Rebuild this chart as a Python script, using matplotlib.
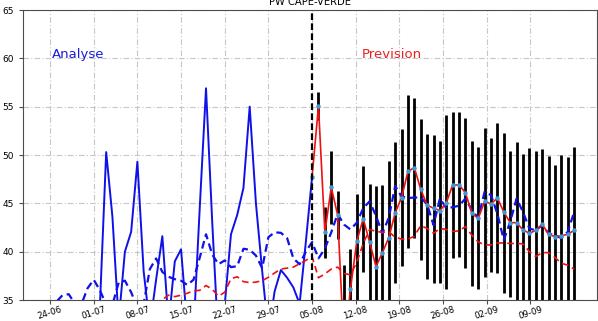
import matplotlib
matplotlib.use('Agg')
import matplotlib.pyplot as plt
import matplotlib.dates as mdates
import pandas as pd

# analyse (daily, 20-06 -> 05-08)
ana_dates = pd.date_range('2024-06-20', '2024-08-05', freq='D')
ana_pw = [30.2, 29.5, 30.8, 31.5, 30.1, 29.4, 30.6, 31.9, 30.5, 29.8, 31.2, 30.4,
          34.5, 50.3, 43.6, 32.8, 40.0, 42.05, 49.3, 38.0, 32.3, 37.1,
          41.6, 32.6, 39.0, 40.25, 32.2, 31.8, 44.6, 56.9, 43.0, 30.5,
          34.5, 41.8, 43.8, 46.6, 55.0, 45.0, 38.0, 31.6, 35.9, 38.1,
          37.3, 36.3, 34.6, 41.0, 47.75]

# forecast (05-08 -> 16-09)
fc_dates = pd.date_range('2024-08-05', '2024-09-16', periods=42)
fc_pw = [47.75, 55.06, 42.0, 46.65, 43.8, 30.0, 36.1, 41.1, 43.4, 41.0,
         38.45, 39.9, 41.45, 44.0, 45.6, 48.3, 48.7, 46.45, 44.8, 44.5,
         44.25, 45.05, 46.9, 46.9, 46.1, 43.95, 43.45, 45.2, 44.95, 45.55,
         44.1, 43.0, 43.0, 42.25, 41.9, 42.2, 42.85, 41.8, 41.55, 41.65,
         41.8, 42.2]
fc_max = [56.5, 44.65, 50.4, 46.3, 38.6, 40.3, 46.0, 48.9, 47.0, 46.8,
          46.9, 49.4, 51.3, 52.65, 56.2, 55.9, 53.7, 52.2, 52.1, 51.4,
          54.1, 54.4, 54.4, 53.85, 51.4, 50.8, 52.75, 51.8, 53.35, 52.3,
          50.45, 51.3, 50.1, 50.75, 50.4, 50.6, 49.9, 49.0, 50.0, 49.75, 50.8]
fc_min = [53.6, 39.3, 42.9, 41.3, 31.0, 33.0, 33.5, 37.9, 33.0, 33.0,
          33.0, 33.0, 36.8, 38.5, 40.35, 41.4, 39.1, 37.2, 36.8, 36.8,
          36.1, 39.3, 39.5, 38.3, 36.4, 36.1, 37.4, 37.9, 37.75, 35.75,
          35.3, 33.0, 33.0, 33.0, 33.0, 33.0, 33.0, 33.0, 33.0, 33.0, 33.0]

# dashed curves: analysis part (20-06 -> 04-08) then forecast part
blue_ana = [32.5, 33.0, 33.2, 33.6, 34.0, 34.8, 35.5, 35.6, 34.6, 34.5,
            36.2, 37.1, 36.0, 34.5, 34.5, 36.8, 37.0, 35.8, 34.2, 34.6,
            38.2, 39.3, 37.9, 37.4, 37.15, 37.0, 36.55, 37.1, 39.4, 41.8,
            39.7, 38.7, 39.1, 38.4, 38.5, 40.3, 40.2, 39.6, 38.3, 41.5,
            42.0, 41.95, 41.4, 39.3, 38.7, 40.0]
blue_fc = [41.0, 39.3, 40.3, 42.0, 43.9, 42.8, 42.3, 43.0, 44.5, 45.2,
           43.7, 41.9, 43.5, 46.8, 45.7, 45.55, 45.6, 45.6, 44.9, 42.75,
           45.5, 44.5, 44.6, 44.75, 45.5, 44.3, 43.5, 46.2, 45.85, 43.9,
           41.2, 43.1, 45.5, 44.1, 42.4, 42.2, 42.75, 41.9, 41.7, 41.4,
           42.05, 44.1]
red_ana = [33.5, 34.5, 35.05, 35.5, 35.35, 35.5, 35.7, 35.95, 36.0, 36.5,
           36.1, 35.4, 35.8, 37.2, 37.4, 36.9, 36.8, 36.85, 37.0, 37.35,
           37.8, 38.2, 38.3, 38.4, 38.75, 39.1]
red_fc = [39.5, 37.3, 37.7, 38.2, 38.4, 37.75, 37.6, 38.9, 40.85, 42.3,
          42.1, 42.0, 42.05, 41.5, 41.3, 41.3, 41.6, 42.7, 42.4, 41.9,
          42.4, 42.3, 42.1, 42.15, 42.6, 41.7, 41.0, 40.7, 40.7, 40.9,
          40.9, 40.85, 40.85, 40.8, 40.0, 39.5, 39.9, 39.9, 39.4, 38.8,
          38.6, 38.2]

blue_dates = list(pd.date_range('2024-06-20', '2024-08-04', freq='D')) + list(fc_dates)
red_dates = list(pd.date_range('2024-07-10', '2024-08-04', freq='D')) + list(fc_dates)
week_ticks = pd.date_range('2024-06-24', '2024-09-09', freq='7D')

fig = plt.figure(figsize=(5.98, 3.21), dpi=100)
ax = fig.add_axes([23 / 598, 21 / 321, 574 / 598, 290 / 321])

ax.grid(True, color='0.78', ls=(0, (5, 2, 1, 2)), lw=0.8)
ax.set_axisbelow(True)

ax.vlines(fc_dates[1:], fc_min, fc_max, color='black', lw=2.0, zorder=2)
ax.plot(ana_dates, ana_pw, color='#1010e8', lw=1.4, zorder=3)
ax.plot(blue_dates, blue_ana + blue_fc, color='#1010e8', lw=1.6, ls=(0, (3.5, 2)), zorder=3)
ax.plot(red_dates, red_ana + red_fc, color='#ee1111', lw=1.2, ls=(0, (4, 2.5)), zorder=3)
ax.plot(fc_dates, fc_pw, color='#ee1111', lw=1.2, zorder=4)
ax.plot(fc_dates, fc_pw, 'o', color='#3d9ad6', ms=2.2, zorder=5)
ax.axvline(pd.Timestamp('2024-08-05'), color='black', lw=1.6, ls=(0, (3, 1.5)), zorder=6)

ax.text(pd.Timestamp('2024-06-24 08:00'), 60, 'Analyse', color='#1a1ae0', fontsize=9.5, va='baseline')
ax.text(pd.Timestamp('2024-08-13'), 60, 'Prevision', color='#e82020', fontsize=9.5, va='baseline')

ax.set_ylim(35, 65)
ax.set_xlim(pd.Timestamp('2024-06-19 16:00'), pd.Timestamp('2024-09-19 16:00'))
ax.set_xticks(week_ticks)
ax.xaxis.set_major_formatter(mdates.DateFormatter('%d-%m'))
ax.tick_params(axis='both', labelsize=6.5, length=3, color='0.3')
ax.tick_params(axis='x', labelsize=6.2, pad=0.5)
for lab in ax.get_xticklabels():
    lab.set_rotation(17)
    lab.set_ha('center')
for s in ax.spines.values():
    s.set_color('0.3')
ax.set_title('PW CAPE-VERDE', fontsize=7.2, pad=3.5)
ax.set_ylabel('PW (mm)', fontsize=7, labelpad=5)

fig.savefig('out.png', dpi=100)
